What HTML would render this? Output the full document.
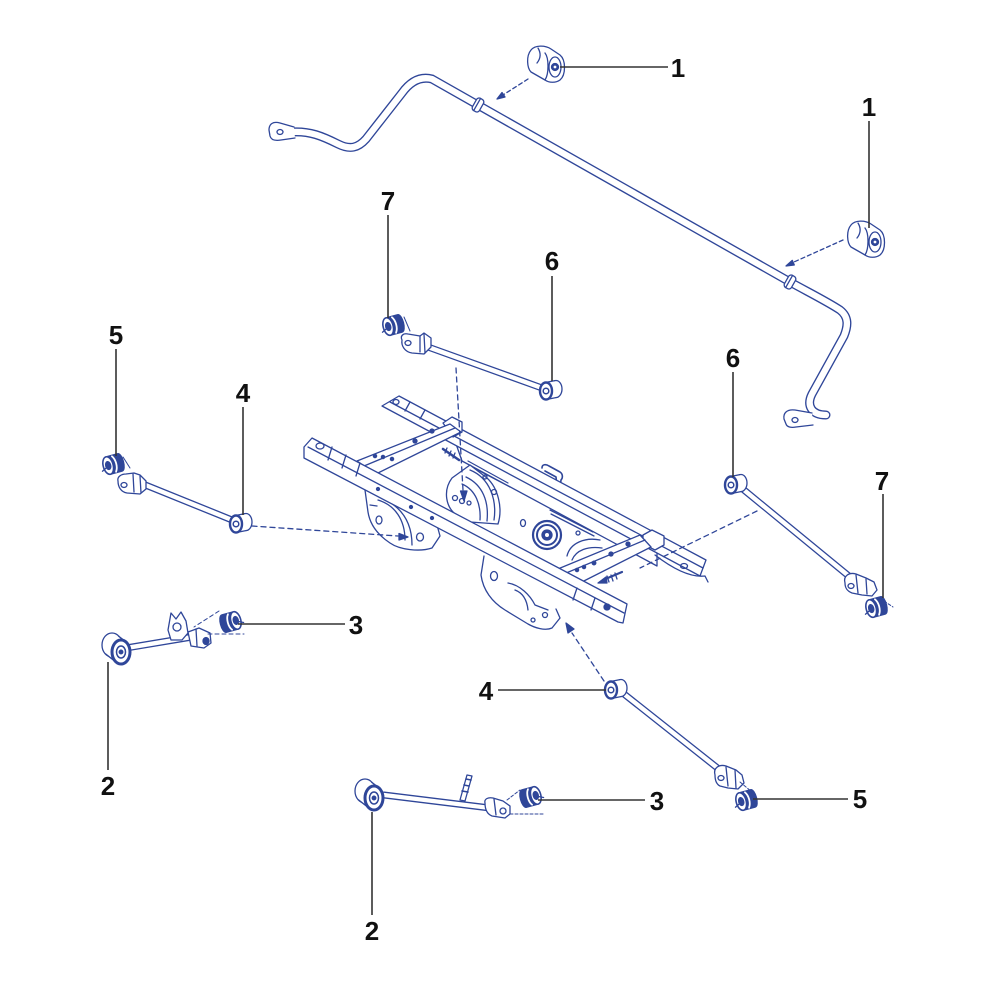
<!DOCTYPE html>
<html><head><meta charset="utf-8"><style>
html,body{margin:0;padding:0;background:#fff;}
svg{display:block;}
text{font-family:"Liberation Sans",Arial,sans-serif;font-weight:bold;font-size:26px;fill:#111;}
</style></head><body>
<svg width="1000" height="1000" viewBox="0 0 1000 1000" xmlns="http://www.w3.org/2000/svg">
<defs>
<g id="bsh">
 <path d="M-6,-9 L6,-9 C11,-9 11,9 6,9 L-6,9 Z" fill="#2f4699"/>
 <path d="M0,-8 C3,-4 3,4 0,8" stroke="#fff" stroke-width="1.8"/>
 <ellipse cx="-6" cy="0" rx="5" ry="9" fill="#fff" stroke-width="1.6"/>
 <ellipse cx="-6" cy="0" rx="2.5" ry="4" fill="#2f4699"/>
 <line x1="-13" y1="4" x2="-9" y2="2"/>
</g>
<g id="eye">
 <ellipse cx="10" cy="-2" rx="6" ry="8.5" fill="#fff"/>
 <polygon points="1.7,8.3 11.7,6.3 8.3,-10.3 -1.7,-8.3" fill="#fff" stroke="none"/>
 <path d="M1.7,8.3 L11.7,6.3 M-1.7,-8.3 L8.3,-10.3"/>
 <ellipse cx="0" cy="0" rx="6" ry="8.5" fill="#fff" stroke-width="2.4"/>
 <circle cx="0" cy="0" r="2.8" stroke-width="1.5"/>
</g>
<g id="beye">
 <ellipse cx="-9" cy="-7" rx="10" ry="12" fill="#fff"/>
 <polygon points="-15.6,1.8 -6.6,8.8 6.6,-8.8 -2.4,-15.8" fill="#fff" stroke="none"/>
 <path d="M-15.6,1.8 L-6.6,8.8 M-2.4,-15.8 L6.6,-8.8"/>
 <ellipse cx="0" cy="0" rx="9" ry="12" fill="#fff" stroke-width="3"/>
 <ellipse cx="0" cy="0" rx="4.5" ry="6" stroke-width="1.5"/>
 <circle cx="0" cy="0" r="1.8" fill="#2f4699"/>
</g>
<g id="b1">
 <path d="M531,50 C535,45 545,45 551,49 L560,55 C566,60 566,75 560,80 C556,83 549,83 545,80 L531,72 C527,68 526,56 531,50Z" fill="#fff"/>
 <path d="M538,48 C541,53 541,58 537,63 M545,53 C549,58 549,74 545,80"/>
 <ellipse cx="555" cy="67" rx="6" ry="10" fill="#fff"/>
 <circle cx="555" cy="67" r="3.5" fill="#2f4699"/>
 <circle cx="555" cy="67" r="1.4" fill="#fff" stroke="none"/>
</g>
</defs>
<rect width="1000" height="1000" fill="#fff"/>
<g fill="none" stroke="#2f4699" stroke-width="1.3" stroke-linejoin="round" stroke-linecap="round">

<!-- Sway bar -->
<path d="M292,132 C310,131 322,136 338,144 C350,150 358,148 366,139 L402,93 C410,82 420,76 432,79 L790,282 C810,293 828,302 840,310 C849,317 848,326 844,336 L812,394 C806,406 812,415 826,415" stroke-width="9"/>
<path d="M292,132 C310,131 322,136 338,144 C350,150 358,148 366,139 L402,93 C410,82 420,76 432,79 L790,282 C810,293 828,302 840,310 C849,317 848,326 844,336 L812,394 C806,406 812,415 826,415" stroke="#fff" stroke-width="6.3"/>
<path d="M294,127 L280,123 C273,121 269,124 269,130 L270,136 C271,140 275,141 281,140 L295,138" fill="#fff"/>
<ellipse cx="280" cy="132" rx="3" ry="2.5"/>
<path d="M812,413 L795,410 C787,409 783,413 784,419 L786,424 C787,427 791,428 796,427 L813,425" fill="#fff"/>
<ellipse cx="795" cy="420" rx="3" ry="2.5"/>
<g transform="translate(478,105) rotate(29.5)"><rect x="-4" y="-7" width="8" height="14" rx="3" fill="#fff"/><line x1="-1" y1="-7" x2="-1" y2="7"/></g>
<g transform="translate(790,282) rotate(29.5)"><rect x="-4" y="-7" width="8" height="14" rx="3" fill="#fff"/><line x1="-1" y1="-7" x2="-1" y2="7"/></g>

<use href="#b1"/>
<use href="#b1" transform="translate(320,175)"/>
<line x1="528" y1="79" x2="503" y2="95" stroke-dasharray="4,3"/>
<polygon points="497,99 505,97 502,92.5" fill="#2f4699"/>
<line x1="843" y1="240" x2="794" y2="262" stroke-dasharray="4,3"/>
<polygon points="786,266 794.3,265 792.3,260.4" fill="#2f4699"/>

<!-- FRAME -->
<polygon points="455,441 657,548 657,566 462,461" fill="#fff"/>
<path d="M468,461 L508,483 M470,466 L510,487" stroke-width="1.2"/>
<path d="M550,510 L593,532 M551,514 L594,536"/>
<path d="M452,478 C443,490 445,508 458,516 L470,522 L498,524 C503,508 498,488 487,478 L470,465 Z" fill="#fff"/>
<path d="M470,470 C490,478 497,500 494,520 M466,477 C483,485 489,502 487,521 M462,484 C476,490 481,505 480,520"/>
<circle cx="455" cy="498" r="2.5"/><circle cx="462" cy="501" r="2.5"/><circle cx="469" cy="503" r="2"/>
<path d="M542,468 C542,464 546,464 549,466 L560,472 C563,474 563,478 561,480 L560,488 M545,471 L556,477 L557,486" stroke-width="1.6"/>
<circle cx="485" cy="477" r="2"/><circle cx="494" cy="492" r="2.5"/><ellipse cx="523" cy="523" rx="2.5" ry="3.5"/><circle cx="578" cy="533" r="2"/>
<circle cx="547" cy="535" r="14" fill="#fff" stroke-width="2.2"/>
<circle cx="547" cy="535" r="10" stroke-width="2"/>
<circle cx="547" cy="535" r="5" fill="#2f4699"/>
<circle cx="547" cy="535" r="2" fill="#fff" stroke="none"/>
<path d="M567,556 C570,543 585,537 600,540 M572,560 C576,550 588,546 602,548"/>
<!-- right rail -->
<polygon points="382,406 399,396 706,560 700,576" fill="#fff"/>
<line x1="390" y1="402" x2="703" y2="568"/>
<ellipse cx="396" cy="402" rx="3" ry="2.5"/>
<path d="M405,411 L410,402 M420,419 L425,410"/>
<path d="M643,535 L652,530 L664,536 L664,545 L655,550 L643,544Z" fill="#fff"/>
<path d="M655,555 C668,565 688,578 705,576 L708,582" />
<ellipse cx="684" cy="566" rx="3.5" ry="2.5"/>
<path d="M443,423 L452,417 L462,422 L462,432 L453,437Z" fill="#fff"/>
<!-- front crossmember -->
<polygon points="357,461 450,424 461,432 376,474" fill="#fff"/>
<line x1="364" y1="466" x2="455" y2="428"/>
<circle cx="375" cy="456" r="1.6" fill="#2f4699"/><circle cx="383" cy="457" r="1.6" fill="#2f4699"/><circle cx="392" cy="459" r="1.6" fill="#2f4699"/>
<circle cx="415" cy="441" r="2" fill="#2f4699"/><circle cx="432" cy="431" r="2" fill="#2f4699"/>
<!-- rear crossmember -->
<polygon points="553,571 640,535 651,547 570,588" fill="#fff"/>
<line x1="559" y1="576" x2="645" y2="540"/>
<circle cx="577" cy="570" r="1.6" fill="#2f4699"/><circle cx="584" cy="567" r="1.6" fill="#2f4699"/><circle cx="594" cy="563" r="1.8" fill="#2f4699"/><circle cx="611" cy="554" r="2" fill="#2f4699"/><circle cx="628" cy="544" r="2" fill="#2f4699"/>
<path d="M443,449 L459,460" stroke-width="2.5"/>
<path d="M447,448 L445,453 M451,451 L449,456 M455,453 L453,458"/>
<path d="M603,580 L622,572" stroke-width="2.2"/>
<path d="M607,576 L609,582 M611,575 L613,581 M615,573 L617,579"/>
<!-- left bracket -->
<path d="M365,490 L368,512 C370,525 378,535 390,543 C400,550 420,552 432,548 L440,536 L437,525" fill="#fff"/>
<path d="M378,500 C395,505 405,520 405,540 M386,500 C401,508 412,522 412,545 M370,505 L377,506"/>
<ellipse cx="379" cy="520" rx="3" ry="4"/><ellipse cx="420" cy="537" rx="3.5" ry="4"/>
<!-- middle bracket -->
<path d="M484,556 L481,575 C483,590 492,602 505,610 L528,624 C535,628 545,631 552,628 L560,618 L556,609" fill="#fff"/>
<path d="M508,583 C520,585 530,595 535,605 L548,610 M515,590 C523,593 527,600 528,610"/>
<ellipse cx="494" cy="576" rx="3.5" ry="4.5"/><circle cx="545" cy="615" r="2.5"/><circle cx="533" cy="620" r="2"/>
<!-- front rail -->
<polygon points="304,447 312,438 627,604 623,623 618,622 304,458" fill="#fff"/>
<line x1="308" y1="447" x2="624" y2="613"/>
<ellipse cx="320" cy="446" rx="4" ry="3"/>
<path d="M332,447 L328,460 M346,455 L342,468 M360,463 L356,476"/>
<path d="M577,588 L573,600 M595,598 L591,610"/>
<circle cx="607" cy="607" r="3" fill="#2f4699"/>
<circle cx="378" cy="489" r="1.5" fill="#2f4699"/><circle cx="411" cy="507" r="1.5" fill="#2f4699"/><circle cx="432" cy="518" r="1.5" fill="#2f4699"/>

<!-- frame dashed lines -->
<line x1="252" y1="526" x2="398" y2="536" stroke-dasharray="5,4"/>
<polygon points="408,537 399,533.5 399,540" fill="#2f4699"/>
<line x1="456" y1="368" x2="463" y2="490" stroke-dasharray="5,4"/>
<polygon points="464,501 460.5,491 467,491" fill="#2f4699"/>
<line x1="757" y1="511" x2="640" y2="568" stroke-dasharray="5,4"/>
<polygon points="598,583 606,577 607,583" fill="#2f4699"/>
<line x1="604" y1="681" x2="572" y2="633" stroke-dasharray="5,4"/>
<polygon points="566,623 568,633 574,629" fill="#2f4699"/>

<!-- TOP-LEFT LINK (4) -->
<line x1="138" y1="482" x2="232" y2="520" stroke-width="7"/>
<line x1="138" y1="482" x2="232" y2="520" stroke="#fff" stroke-width="4.4"/>
<path d="M118,481 C117,477 121,474 126,474 L134,473 L140,475 L146,481 L146,489 L140,494 L127,493 C121,492 118,487 118,481Z" fill="#fff"/>
<ellipse cx="124" cy="485" rx="3" ry="2.5"/>
<path d="M133,474 L134,492 M140,476 L141,493"/>
<use href="#eye" transform="translate(236,524)"/>
<use href="#bsh" transform="translate(114,464) rotate(-15)"/>
<path d="M123,457 L130,468" stroke-width="1"/>

<!-- LEFT ARM (2) -->
<line x1="126" y1="648" x2="192" y2="637" stroke-width="7"/>
<line x1="126" y1="648" x2="192" y2="637" stroke="#fff" stroke-width="4.4"/>
<path d="M168,630 L171,613 L176,619 L181,612 L186,621 L188,633 L182,640 L171,640Z" fill="#fff"/>
<circle cx="177" cy="627" r="4"/>
<path d="M188,632 L199,628 L210,633 L211,643 L204,648 L191,646Z" fill="#fff"/>
<ellipse cx="206" cy="641" rx="3" ry="3.5" fill="#2f4699"/>
<path d="M196,629 L197,646"/>
<use href="#beye" transform="translate(121,652)"/>
<line x1="219" y1="611" x2="194" y2="627" stroke-dasharray="4,3" stroke-width="1"/>
<line x1="208" y1="634" x2="244" y2="634" stroke-dasharray="4,3" stroke-width="1"/>
<use href="#bsh" transform="translate(230,622) scale(-1,1) rotate(15)"/>

<!-- MID LINK (6) -->
<line x1="428" y1="347" x2="542" y2="388" stroke-width="7"/>
<line x1="428" y1="347" x2="542" y2="388" stroke="#fff" stroke-width="4.4"/>
<path d="M402,340 C400,336 403,333 408,334 L420,336 L424,333 L431,338 L431,347 L424,354 L412,353 C405,352 401,346 402,340Z" fill="#fff"/>
<ellipse cx="408" cy="343" rx="3" ry="2.5"/>
<path d="M420,336 L420,352 M424,334 L425,353"/>
<use href="#eye" transform="translate(546,391)"/>
<use href="#bsh" transform="translate(394,325) rotate(-15)"/>
<path d="M404,317 L410,331" stroke-width="1"/>

<!-- RIGHT LINK (6/7) -->
<line x1="744" y1="490" x2="850" y2="577" stroke-width="7"/>
<line x1="744" y1="490" x2="850" y2="577" stroke="#fff" stroke-width="4.4"/>
<path d="M845,583 C843,576 849,572 856,574 L866,578 L874,582 L877,590 L872,596 L862,595 L852,593 C847,591 845,588 845,583Z" fill="#fff"/>
<ellipse cx="851" cy="586" rx="3" ry="2.5"/>
<path d="M856,575 L858,593 M866,579 L867,594"/>
<use href="#eye" transform="translate(731,485)"/>
<use href="#bsh" transform="translate(877,607) rotate(-15)"/>
<path d="M884,601 L893,607" stroke-width="1" stroke-dasharray="3,2"/>

<!-- BOTTOM LINK (4/5) -->
<line x1="624" y1="694" x2="720" y2="770" stroke-width="7"/>
<line x1="624" y1="694" x2="720" y2="770" stroke="#fff" stroke-width="4.4"/>
<path d="M715,775 C713,768 719,764 726,766 L736,770 L742,775 L744,783 L738,789 L728,788 L720,786 C716,784 715,780 715,775Z" fill="#fff"/>
<ellipse cx="721" cy="778" rx="3" ry="2.5"/>
<path d="M726,767 L728,786 M735,770 L736,788"/>
<use href="#eye" transform="translate(611,690)"/>
<use href="#bsh" transform="translate(747,800) rotate(-15)"/>
<path d="M740,782 L752,792" stroke-width="1" stroke-dasharray="3,2"/>

<!-- BOTTOM ARM (2) -->
<line x1="384" y1="795" x2="490" y2="808" stroke-width="7"/>
<line x1="384" y1="795" x2="490" y2="808" stroke="#fff" stroke-width="4.4"/>
<path d="M460,800 L467,775 L472,776 L465,801Z" fill="#fff"/>
<path d="M462,791 L468,792 M464,785 L469,786 M466,779 L471,780" stroke-width="1.6"/>
<path d="M485,803 C484,799 488,797 493,798 L503,801 L510,806 L510,814 L505,818 L492,816 C487,814 485,809 485,803Z" fill="#fff"/>
<ellipse cx="503" cy="811" rx="3" ry="3"/>
<path d="M494,799 L496,815"/>
<use href="#beye" transform="translate(374,798)"/>
<line x1="507" y1="800" x2="520" y2="790" stroke-dasharray="3,2" stroke-width="1"/>
<line x1="510" y1="814" x2="545" y2="814" stroke-dasharray="3,2" stroke-width="1"/>
<use href="#bsh" transform="translate(530,797) scale(-1,1) rotate(15)"/>
</g>

<!-- leader lines -->
<g stroke="#333" stroke-width="1.6" fill="none">
<line x1="560" y1="67" x2="668" y2="67"/>
<line x1="869" y1="121" x2="869" y2="228"/>
<line x1="388" y1="215" x2="388" y2="318"/>
<line x1="552" y1="276" x2="552" y2="381"/>
<line x1="116" y1="349" x2="116" y2="456"/>
<line x1="243" y1="407" x2="243" y2="515"/>
<line x1="733" y1="372" x2="733" y2="477"/>
<line x1="883" y1="494" x2="883" y2="598"/>
<line x1="238" y1="624" x2="345" y2="624"/>
<line x1="108" y1="662" x2="108" y2="770"/>
<line x1="498" y1="690" x2="606" y2="690"/>
<line x1="538" y1="800" x2="645" y2="800"/>
<line x1="753" y1="799" x2="848" y2="799"/>
<line x1="372" y1="812" x2="372" y2="915"/>
</g>

<!-- labels -->
<g text-anchor="middle">
<text x="678" y="77">1</text>
<text x="869" y="116">1</text>
<text x="388" y="210">7</text>
<text x="552" y="270">6</text>
<text x="116" y="344">5</text>
<text x="243" y="402">4</text>
<text x="733" y="367">6</text>
<text x="882" y="490">7</text>
<text x="356" y="634">3</text>
<text x="108" y="795">2</text>
<text x="486" y="700">4</text>
<text x="657" y="810">3</text>
<text x="860" y="808">5</text>
<text x="372" y="940">2</text>
</g>
</svg>
</body></html>
